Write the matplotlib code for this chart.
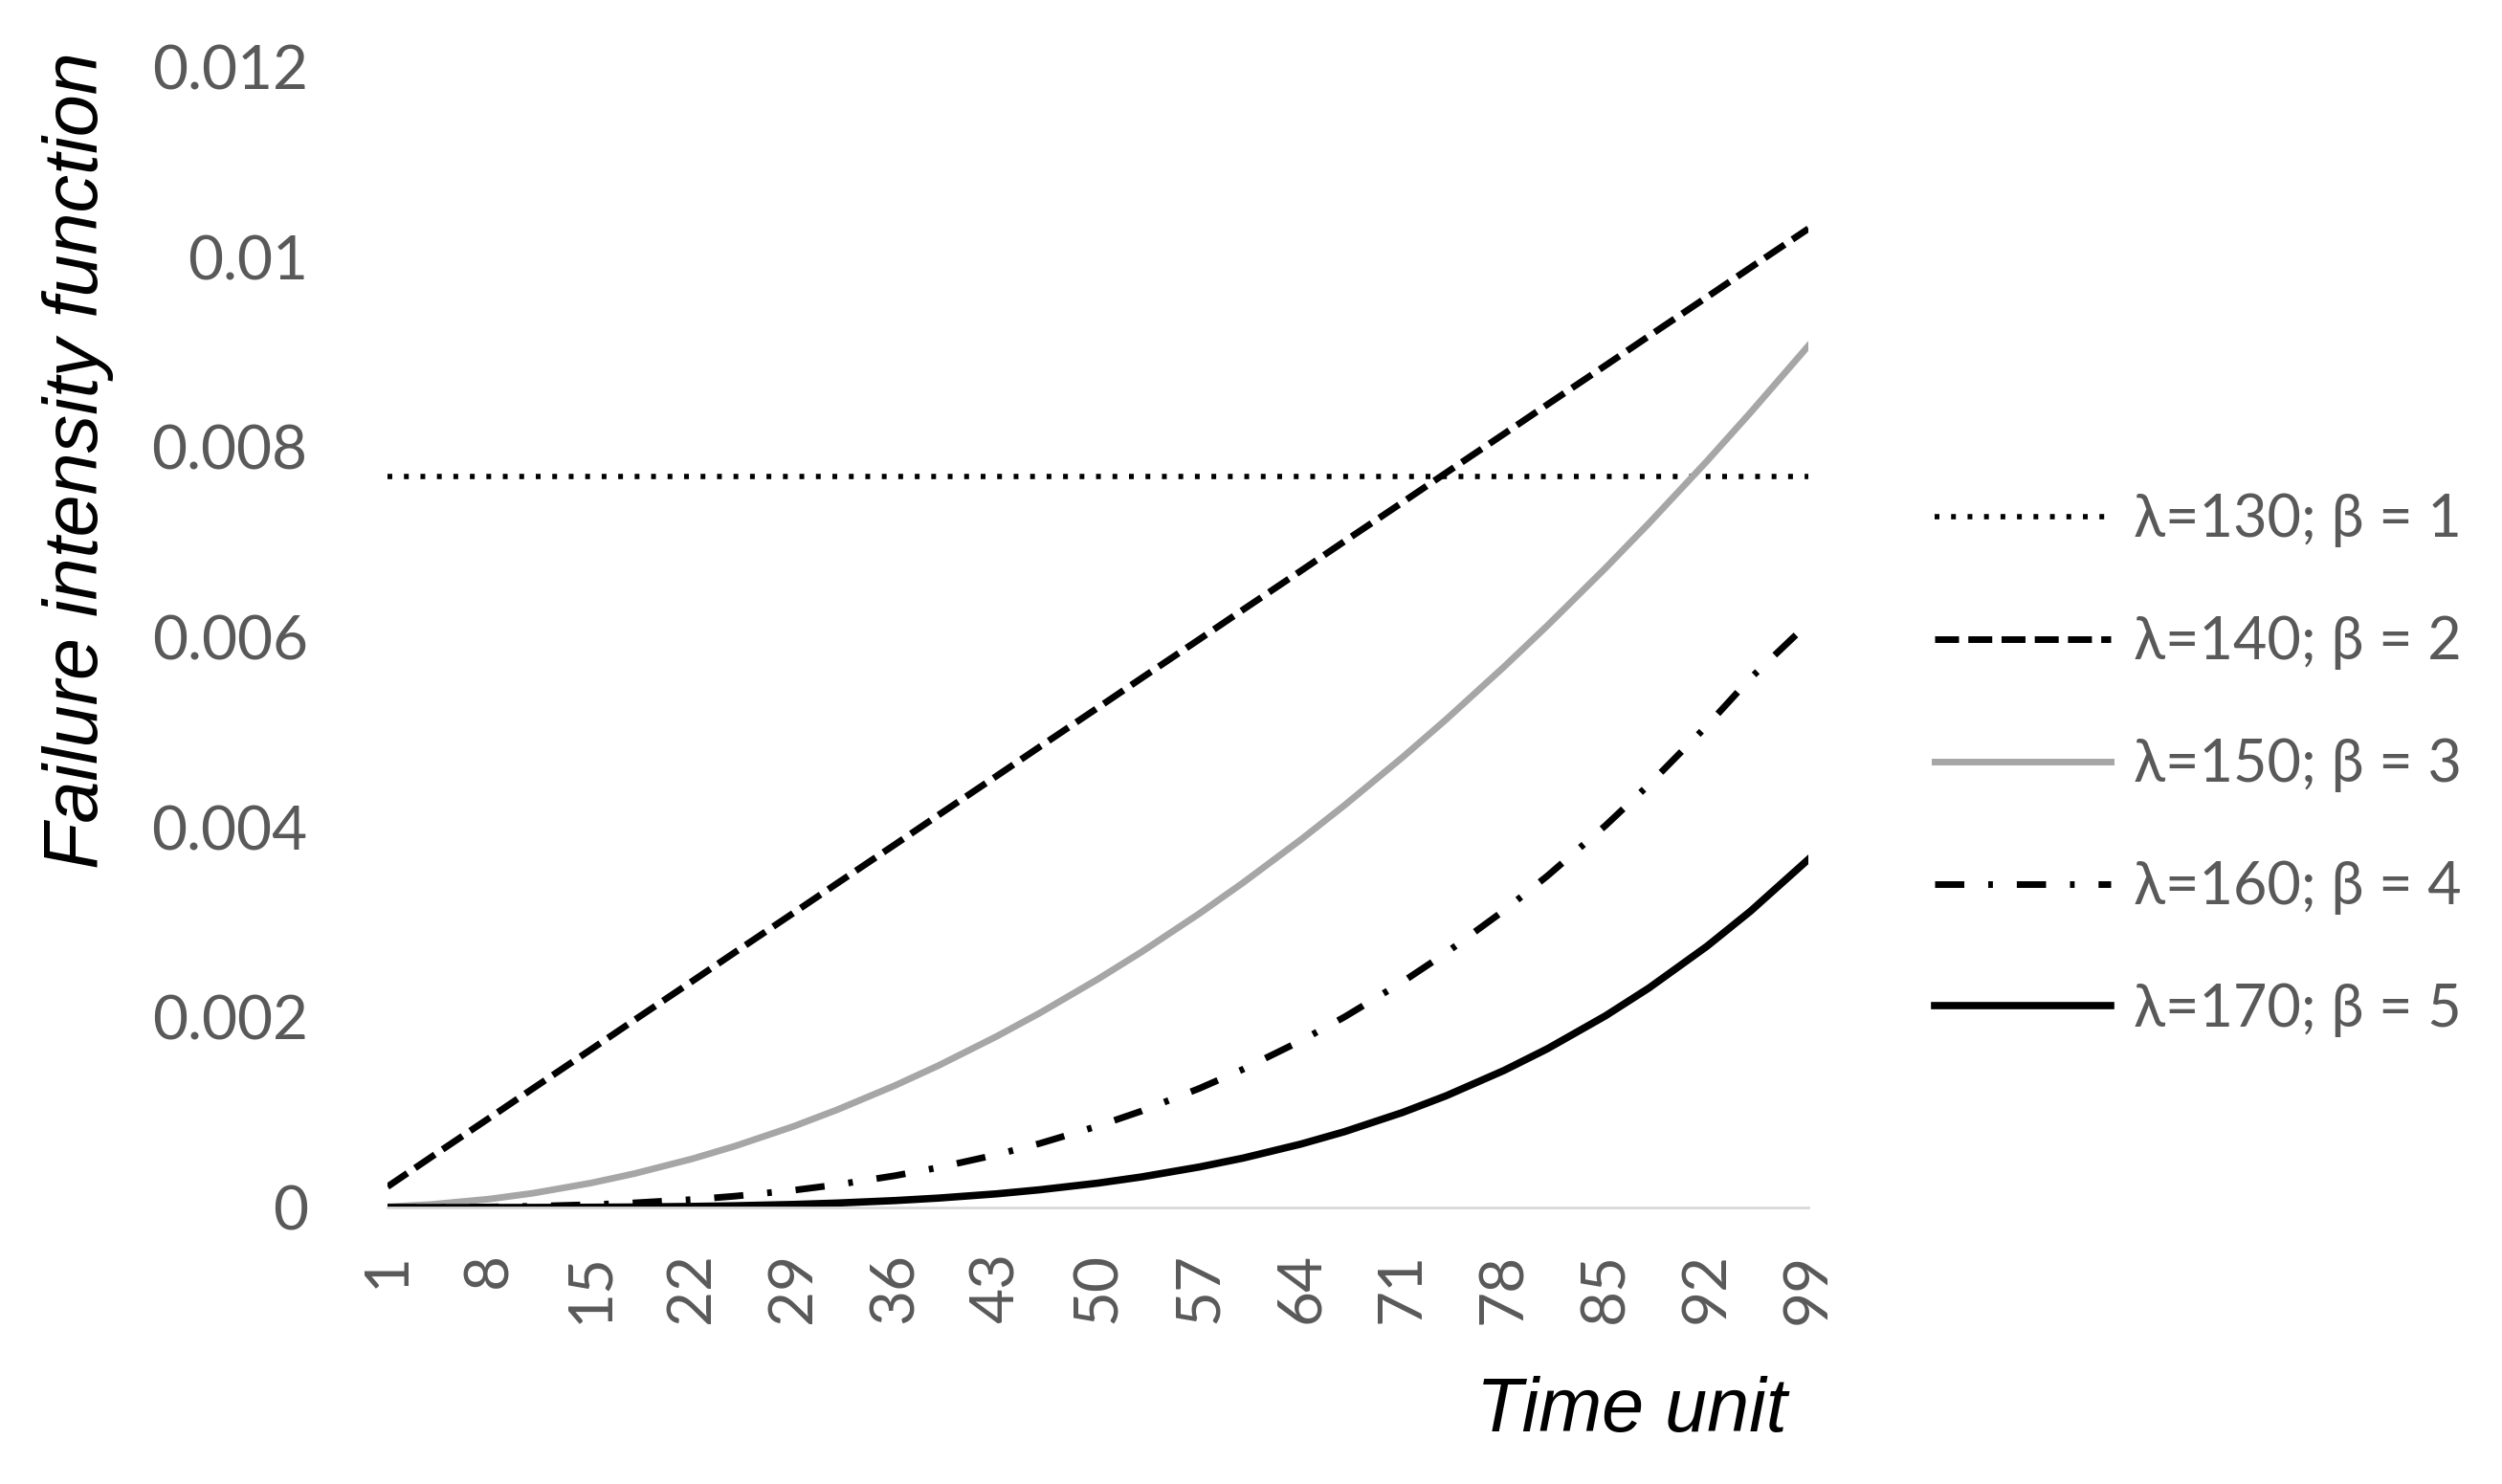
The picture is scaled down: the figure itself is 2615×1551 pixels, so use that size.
import numpy as np
import matplotlib
matplotlib.use("Agg")
import matplotlib.pyplot as plt

# Datos (intensidad de fallos por unidad de tiempo)
time_unit = [1, 4, 8, 11, 15, 18, 22, 25, 29, 32, 36, 39, 43, 46, 50,
             53, 57, 60, 64, 67, 71, 74, 78, 81, 85, 88, 92, 95, 99]
tick_labels = [1, 8, 15, 22, 29, 36, 43, 50, 57, 64, 71, 78, 85, 92, 99]

lam130_b1 = [0.00769] * len(time_unit)
lam140_b2 = [0.00022, 0.00053, 0.00094, 0.00125, 0.00166, 0.00197, 0.00238, 0.00269,
             0.00310, 0.00341, 0.00382, 0.00413, 0.00454, 0.00485, 0.00526, 0.00557,
             0.00598, 0.00629, 0.00670, 0.00701, 0.00742, 0.00773, 0.00814, 0.00845,
             0.00886, 0.00917, 0.00958, 0.00989, 0.01030]
lam150_b3 = [0.000008, 0.000032, 0.000089, 0.000150, 0.000257, 0.000356, 0.000512,
             0.000648, 0.000854, 0.001028, 0.001284, 0.001494, 0.001800, 0.002048,
             0.002404, 0.002689, 0.003094, 0.003417, 0.003872, 0.004232, 0.004737,
             0.005134, 0.005689, 0.006124, 0.006728, 0.007200, 0.007854, 0.008364,
             0.009068]
lam160_b4 = [0.0000002, 0.0000013, 0.0000061, 0.0000134, 0.000030, 0.000049, 0.000084,
             0.000120, 0.000182, 0.000240, 0.000335, 0.000421, 0.000556, 0.000675,
             0.000858, 0.001015, 0.001254, 0.001455, 0.001755, 0.002005, 0.002374,
             0.002679, 0.003125, 0.003490, 0.004019, 0.004450, 0.005070, 0.005570,
             0.006150]
lam170_b5 = [0.0, 0.00000005, 0.00000035, 0.0000010, 0.0000029, 0.0000056, 0.0000117,
             0.0000187, 0.0000325, 0.0000471, 0.0000734, 0.0000995, 0.000144, 0.000187,
             0.000257, 0.000322, 0.000427, 0.000520, 0.000668, 0.000798, 0.001000,
             0.001175, 0.001442, 0.001671, 0.002017, 0.002310, 0.002749, 0.003118,
             0.003664]

y_ticks = [0, 0.002, 0.004, 0.006, 0.008, 0.01, 0.012]
y_tick_labels = ["0", "0.002", "0.004", "0.006", "0.008", "0.01", "0.012"]

# Grafico
fig = plt.figure(figsize=(26.15, 15.51), dpi=100)
ax = fig.add_axes([0.1549, 0.1863, 0.5679, 0.7685])

ax.plot(time_unit, lam130_b1, color="black", lw=4, linestyle=(0, (0.9, 2.2)),
        label="λ=130; β = 1")
ax.plot(time_unit, lam140_b2, color="black", lw=5, linestyle=(0, (3.6, 1.4)),
        label="λ=140; β = 2")
ax.plot(time_unit, lam150_b3, color="#a6a6a6", lw=5, label="λ=150; β = 3")
ax.plot(time_unit, lam160_b4, color="black", lw=5, linestyle=(0, (4.4, 3.6, 0.7, 3.6)),
        label="λ=160; β = 4")
ax.plot(time_unit, lam170_b5, color="black", lw=5.5, label="λ=170; β = 5")

ax.set_xlim(1, 99)
ax.set_ylim(0, 0.012)
ax.set_xticks(tick_labels)
ax.set_xticklabels([str(t) for t in tick_labels], rotation=90)
ax.set_yticks(y_ticks)
ax.set_yticklabels(y_tick_labels)

for s in ["top", "right", "left"]:
    ax.spines[s].set_visible(False)
ax.spines["bottom"].set_color("#d9d9d9")
ax.spines["bottom"].set_linewidth(2)
ax.tick_params(axis="both", length=0, colors="#595959", labelsize=46)
ax.tick_params(axis="x", pad=34)
ax.tick_params(axis="y", pad=60)
for lbl in ax.get_xticklabels() + ax.get_yticklabels():
    lbl.set_family(["Lato", "DejaVu Sans"])

leg = ax.legend(loc="center left", bbox_to_anchor=(1.052, 0.388), frameon=False,
                handlelength=3.0, handletextpad=0.4, labelspacing=1.16,
                prop={"family": ["Lato", "DejaVu Sans"], "size": 44})
for txt in leg.get_texts():
    txt.set_color("#595959")

fig.text(0.031, 0.69, "Failure intensity function", rotation=90, ha="center", va="center",
         fontsize=57, style="italic", family="Liberation Sans", color="black")
fig.text(0.652, 0.049, "Time unit", ha="center", va="center",
         fontsize=57, style="italic", family="Liberation Sans", color="black")

fig.savefig("out.png", dpi=100)
